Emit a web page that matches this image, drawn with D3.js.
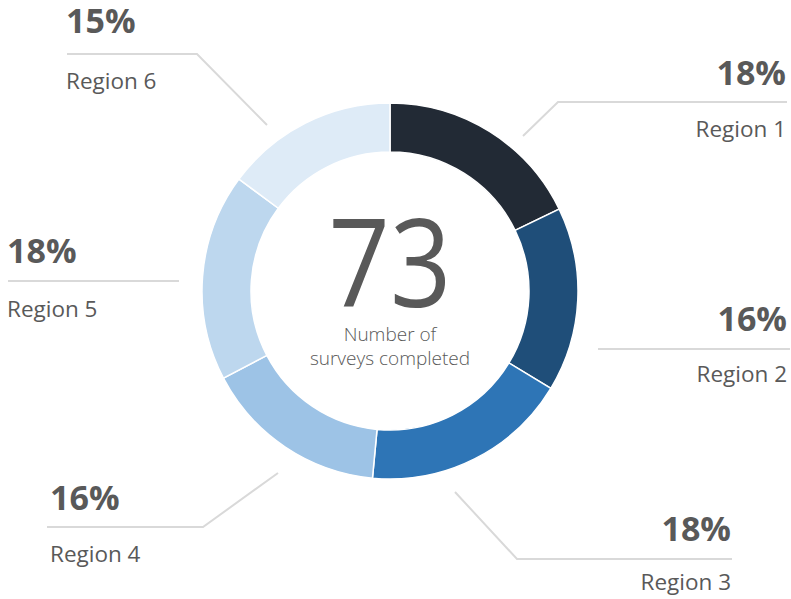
<!DOCTYPE html>
<html>
<head>
<meta charset="utf-8">
<script src="https://cdn.jsdelivr.net/npm/d3@7"></script>
<style>
  body { margin: 0; background: #fff; }
  #chart { width: 791px; height: 599px; }
  text { font-family: "Open Sans", sans-serif; fill: #595959; }
</style>
</head>
<body>
<div id="chart"></div>
<script>
// data
const regions = ["Region 1", "Region 2", "Region 3", "Region 4", "Region 5", "Region 6"];
const shares = [18, 16, 18, 16, 18, 15];
const colors = ["#222a35", "#1f4e79", "#2e75b6", "#9dc3e6", "#bdd7ee", "#deebf7"];
const totalValue = 73;
const totalLabel = ["Number of", "surveys completed"];

// label placement, offsets from the donut centre
const labelLayout = [
    { anchor: "end",   tx: 396,  pctY: -206, nameY: -154, line: [[133, -155], [168, -189], [397, -189]] },
    { anchor: "end",   tx: 397,  pctY: 40,   nameY: 91,   line: [[208, 58], [400, 58]] },
    { anchor: "end",   tx: 341,  pctY: 250,  nameY: 299,  line: [[65, 201], [127, 268], [342, 268]] },
    { anchor: "start", tx: -340, pctY: 219,  nameY: 271,  line: [[-112, 182], [-187, 236], [-343, 236]] },
    { anchor: "start", tx: -383, pctY: -28,  nameY: 26,   line: [[-211, -10], [-382, -10]] },
    { anchor: "start", tx: -324, pctY: -258, nameY: -202, line: [[-123, -166], [-193, -237], [-323, -237]] }
];

let width = 791, height = 599;
let cx = 390, cy = 291;

let svg = d3.select("#chart")
    .append("svg")
    .attr("width", width)
    .attr("height", height);

let g = svg.append("g").attr("transform", `translate(${cx}, ${cy})`);

let pie = d3.pie().sort(null).value(d => d);
let arc = d3.arc().innerRadius(139).outerRadius(188);
let pieData = pie(shares);
let total = d3.sum(shares);

// donut slices
g.selectAll("path.slice")
    .data(pieData)
    .enter()
    .append("path")
    .attr("class", "slice")
    .attr("d", arc)
    .attr("fill", (d, i) => colors[i])
    .attr("stroke", "#fff")
    .attr("stroke-width", 1.5);

// leader lines
let line = d3.line();
g.selectAll("path.leader")
    .data(labelLayout)
    .enter()
    .append("path")
    .attr("class", "leader")
    .attr("d", d => line(d.line))
    .attr("fill", "none")
    .attr("stroke", "#d9d9d9")
    .attr("stroke-width", 2);

// percentage labels
let fmt = d3.format(".0%");
g.selectAll("text.pct")
    .data(pieData)
    .enter()
    .append("text")
    .attr("class", "pct")
    .attr("x", (d, i) => labelLayout[i].tx)
    .attr("y", (d, i) => labelLayout[i].pctY)
    .attr("text-anchor", (d, i) => labelLayout[i].anchor)
    .style("font-size", "34px")
    .style("font-weight", "bold")
    .text(d => fmt(d.value / total));

// region names
g.selectAll("text.name")
    .data(regions)
    .enter()
    .append("text")
    .attr("class", "name")
    .attr("x", (d, i) => labelLayout[i].tx)
    .attr("y", (d, i) => labelLayout[i].nameY)
    .attr("text-anchor", (d, i) => labelLayout[i].anchor)
    .style("font-size", "22.5px")
    .text(d => d);

// centre total, squeezed a little to match the narrow digits
g.append("text")
    .attr("transform", "translate(0, 16) scale(0.88, 1)")
    .attr("text-anchor", "middle")
    .style("font-size", "122px")
    .style("font-weight", 400)
    .text(totalValue);

g.selectAll("text.sub")
    .data(totalLabel)
    .enter()
    .append("text")
    .attr("class", "sub")
    .attr("x", 0)
    .attr("y", (d, i) => 50 + i * 24)
    .attr("text-anchor", "middle")
    .style("font-size", "19px")
    .style("font-weight", 300)
    .text(d => d);
</script>
</body>
</html>
